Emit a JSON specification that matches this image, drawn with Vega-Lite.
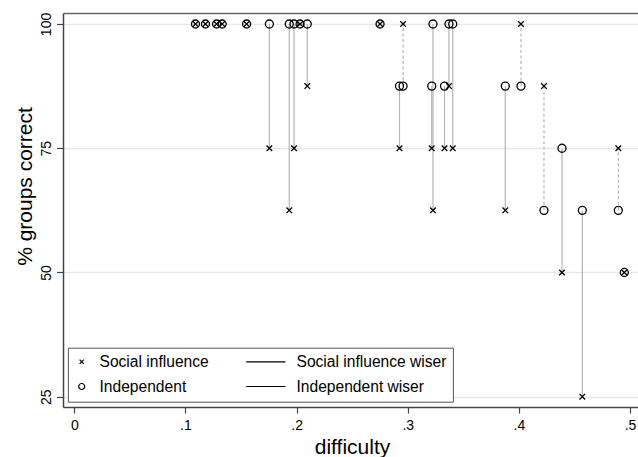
{
  "$schema": "https://vega.github.io/schema/vega-lite/v6.json",
  "width": 575,
  "height": 394,
  "autosize": {"type": "none"},
  "padding": {"left": 63, "top": 13, "right": 0, "bottom": 50},
  "background": "white",
  "config": {"view": {"stroke": null}, "font": "Liberation Sans"},
  "data": {
    "values": [
      {"d": 0.109, "Independent": 100, "Social influence": 100, "wiser": "Tie"},
      {"d": 0.118, "Independent": 100, "Social influence": 100, "wiser": "Tie"},
      {"d": 0.128, "Independent": 100, "Social influence": 100, "wiser": "Tie"},
      {"d": 0.133, "Independent": 100, "Social influence": 100, "wiser": "Tie"},
      {"d": 0.155, "Independent": 100, "Social influence": 100, "wiser": "Tie"},
      {"d": 0.1755, "Independent": 100, "Social influence": 75, "wiser": "Independent wiser"},
      {"d": 0.1934, "Independent": 100, "Social influence": 62.5, "wiser": "Independent wiser"},
      {"d": 0.1977, "Independent": 100, "Social influence": 75, "wiser": "Independent wiser"},
      {"d": 0.2031, "Independent": 100, "Social influence": 100, "wiser": "Tie"},
      {"d": 0.2096, "Independent": 100, "Social influence": 87.5, "wiser": "Independent wiser"},
      {"d": 0.2751, "Independent": 100, "Social influence": 100, "wiser": "Tie"},
      {"d": 0.2926, "Independent": 87.5, "Social influence": 75, "wiser": "Independent wiser"},
      {"d": 0.2958, "Independent": 87.5, "Social influence": 100, "wiser": "Social influence wiser"},
      {"d": 0.3216, "Independent": 87.5, "Social influence": 75, "wiser": "Independent wiser"},
      {"d": 0.3227, "Independent": 100, "Social influence": 62.5, "wiser": "Independent wiser"},
      {"d": 0.3331, "Independent": 87.5, "Social influence": 75, "wiser": "Independent wiser"},
      {"d": 0.3371, "Independent": 100, "Social influence": 87.5, "wiser": "Independent wiser"},
      {"d": 0.3405, "Independent": 100, "Social influence": 75, "wiser": "Independent wiser"},
      {"d": 0.3878, "Independent": 87.5, "Social influence": 62.5, "wiser": "Independent wiser"},
      {"d": 0.4019, "Independent": 87.5, "Social influence": 100, "wiser": "Social influence wiser"},
      {"d": 0.4226, "Independent": 62.5, "Social influence": 87.5, "wiser": "Social influence wiser"},
      {"d": 0.4388, "Independent": 75, "Social influence": 50, "wiser": "Independent wiser"},
      {"d": 0.4571, "Independent": 62.5, "Social influence": 25, "wiser": "Independent wiser"},
      {"d": 0.4895, "Independent": 62.5, "Social influence": 75, "wiser": "Social influence wiser"},
      {"d": 0.4949, "Independent": 50, "Social influence": 50, "wiser": "Tie"}
    ]
  },
  "resolve": {"axis": {"x": "independent"}},
  "layer": [
    {
      "transform": [{"filter": "datum.wiser !== 'Tie'"}],
      "mark": {"type": "rule", "color": "#b5b5b5", "strokeWidth": 1.2},
      "encoding": {
        "x": {
          "field": "d", "type": "quantitative",
          "scale": {"domain": [-0.0102, 0.5072], "nice": false, "zero": false},
          "axis": {
            "values": [0, 0.1, 0.2, 0.3, 0.4, 0.5],
            "labelExpr": "datum.value == 0 ? '0' : replace(format(datum.value, '.1f'), '0.', '.')",
            "grid": false,
            "domain": true, "domainColor": "#444", "domainWidth": 1.5,
            "ticks": true, "tickColor": "#444", "tickSize": 6, "tickWidth": 1.2,
            "labelFontSize": 14, "labelColor": "black", "labelPadding": 5, "labelFont": "Liberation Sans",
            "title": "difficulty", "titleFontSize": 21, "titleFontWeight": "normal", "titleColor": "black",
            "titleFont": "Liberation Sans",
            "titleX": 289, "titleY": 46.3, "titleBaseline": "alphabetic", "titleAlign": "center"
          }
        },
        "y": {
          "field": "Independent", "type": "quantitative",
          "scale": {"domain": [22.93, 102.21], "nice": false, "zero": false},
          "axis": {
            "values": [25, 50, 75, 100],
            "grid": true, "gridColor": "#e8e8e8", "gridWidth": 1.5,
            "domain": true, "domainColor": "#444", "domainWidth": 1.5,
            "ticks": true, "tickColor": "#444", "tickSize": 6.5, "tickWidth": 1.2,
            "labelAngle": -90, "labelAlign": "center", "labelBaseline": "alphabetic",
            "labelFontSize": 14, "labelColor": "black", "labelPadding": 6.5, "labelFont": "Liberation Sans",
            "title": "% groups correct", "titleFontSize": 21, "titleFontWeight": "normal", "titleColor": "black",
            "titleFont": "Liberation Sans", "titleAngle": -90,
            "titleX": -31.5, "titleY": 173, "titleBaseline": "alphabetic", "titleAlign": "center"
          }
        },
        "y2": {"field": "Social influence"},
        "strokeDash": {
          "field": "wiser", "type": "nominal",
          "scale": {"domain": ["Social influence wiser", "Independent wiser"], "range": [[3, 2.5], [1, 0]]},
          "legend": null
        }
      }
    },
    {
      "transform": [{"fold": ["Social influence", "Independent"], "as": ["series", "pct"]}],
      "mark": {"type": "point", "filled": false, "size": 64, "strokeWidth": 1.3, "color": "black", "opacity": 1},
      "encoding": {
        "x": {
          "field": "d", "type": "quantitative",
          "scale": {"domain": [-0.0102, 0.5072], "nice": false, "zero": false},
          "axis": {
            "orient": "top", "labels": false, "ticks": false, "grid": false,
            "domain": true, "domainColor": "#666", "domainWidth": 1.5, "title": null
          }
        },
        "y": {
          "field": "pct", "type": "quantitative",
          "scale": {"domain": [22.93, 102.21], "nice": false, "zero": false},
          "axis": {
            "values": [25, 50, 75, 100],
            "grid": true, "gridColor": "#e8e8e8", "gridWidth": 1.5,
            "domain": true, "domainColor": "#444", "domainWidth": 1.5,
            "ticks": true, "tickColor": "#444", "tickSize": 6.5, "tickWidth": 1.2,
            "labelAngle": -90, "labelAlign": "center", "labelBaseline": "alphabetic",
            "labelFontSize": 14, "labelColor": "black", "labelPadding": 6.5, "labelFont": "Liberation Sans",
            "title": "% groups correct", "titleFontSize": 21, "titleFontWeight": "normal", "titleColor": "black",
            "titleFont": "Liberation Sans", "titleAngle": -90,
            "titleX": -31.5, "titleY": 173, "titleBaseline": "alphabetic", "titleAlign": "center"
          }
        },
        "shape": {
          "field": "series", "type": "nominal",
          "scale": {
            "domain": ["Social influence", "Independent", "Social influence wiser", "Independent wiser"],
            "range": ["M-0.7,-0.7L0.7,0.7M-0.7,0.7L0.7,-0.7", "circle", "M-10.83,0L2.27,0", "M-10.83,0L2.27,0"]
          },
          "legend": {
            "title": null,
            "orient": "none", "legendX": 4.9, "legendY": 334.7,
            "columns": 2, "columnPadding": 34, "rowPadding": 8,
            "padding": 6,
            "strokeColor": "#555", "fillColor": "white",
            "symbolSize": 36, "symbolStrokeWidth": 1.2, "symbolFillColor": "transparent",
            "labelFontSize": 15.6, "labelColor": "black", "labelFont": "Liberation Sans", "labelOffset": 10,
            "labelLimit": 400,
            "encode": {
              "symbols": {
                "stroke": {
                  "condition": {"test": "datum.value === 'Social influence wiser' || datum.value === 'Independent wiser'", "value": "#b5b5b5"},
                  "value": "black"
                },
                "strokeDash": {
                  "condition": {"test": "datum.value === 'Social influence wiser'", "value": [3, 2.5]},
                  "value": [1, 0]
                }
              }
            }
          }
        }
      }
    }
  ]
}
